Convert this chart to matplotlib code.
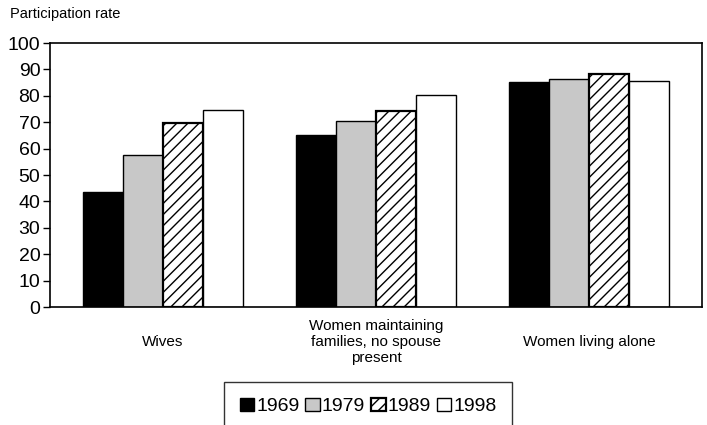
import matplotlib
matplotlib.use("Agg")
import matplotlib.pyplot as plt
import numpy as np

plt.rcParams['font.family'] = ['Liberation Sans', 'DejaVu Sans']
plt.rcParams['hatch.linewidth'] = 1.0

categories = ["Wives", "Women maintaining\nfamilies, no spouse\npresent", "Women living alone"]
years = ["1969", "1979", "1989", "1998"]
rates = {
    "1969": [43.4, 65.3, 85.1],
    "1979": [57.6, 70.6, 86.2],
    "1989": [69.8, 74.1, 88.4],
    "1998": [74.6, 80.2, 85.6],
}
colors = ["black", "#c8c8c8", "white", "white"]
hatches = [None, None, "///", None]
edge_w = [1.0, 1.0, 1.6, 1.0]

fig = plt.figure(figsize=(7.07, 4.25), dpi=100)
# axes box in pixels: x 50..702, y 43..307
ax = fig.add_axes([50/707, 1 - 307/425, 652/707, 264/425])

x = np.arange(len(categories))
w = 0.188
for i, yr in enumerate(years):
    ax.bar(x + (i - 1.5) * w, rates[yr], w, color=colors[i], hatch=hatches[i],
           edgecolor="black", linewidth=edge_w[i], label=yr)

ax.set_ylim(0, 100)
ax.set_xlim(-0.53, 2.53)
ax.set_yticks(range(0, 101, 10))
ax.tick_params(axis='y', labelsize=14, length=5, width=1, direction='out', pad=2)
ax.set_xticks(x)
ax.set_xticklabels(categories, fontsize=11, va='center', ha='center', linespacing=1.2)
ax.tick_params(axis='x', length=0, pad=25)
for s in ax.spines.values():
    s.set_linewidth(1.2)

fig.text(10/707, 1 - 14/425, "Participation rate", fontsize=10.5, va='center', ha='left')

leg = fig.legend(loc='upper center', bbox_to_anchor=(368/707, 1 - 382/425), ncol=4,
                 fontsize=14, frameon=True, fancybox=False, edgecolor='black',
                 handlelength=0.75, handleheight=0.7, handletextpad=0.1,
                 columnspacing=0.3, borderpad=0.8, borderaxespad=0)
leg.get_frame().set_linewidth(1.0)

fig.savefig("out.png", dpi=100)
